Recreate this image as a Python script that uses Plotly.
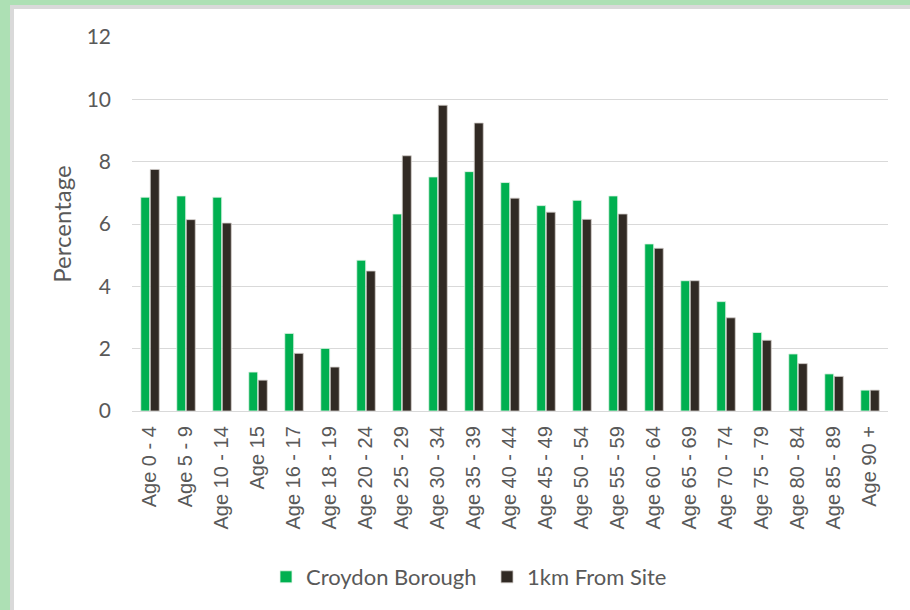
import plotly.graph_objects as go

categories = ["Age 0 - 4", "Age 5 - 9", "Age 10 - 14", "Age 15", "Age 16 - 17",
              "Age 18 - 19", "Age 20 - 24", "Age 25 - 29", "Age 30 - 34", "Age 35 - 39",
              "Age 40 - 44", "Age 45 - 49", "Age 50 - 54", "Age 55 - 59", "Age 60 - 64",
              "Age 65 - 69", "Age 70 - 74", "Age 75 - 79", "Age 80 - 84", "Age 85 - 89",
              "Age 90 +"]
croydon = [6.86, 6.90, 6.86, 1.25, 2.49, 2.01, 4.84, 6.32, 7.51, 7.68,
           7.33, 6.59, 6.76, 6.90, 5.36, 4.18, 3.51, 2.52, 1.83, 1.19, 0.67]
site_1km = [7.75, 6.14, 6.03, 0.99, 1.85, 1.41, 4.49, 8.19, 9.81, 9.24,
            6.83, 6.38, 6.15, 6.32, 5.22, 4.18, 2.99, 2.27, 1.52, 1.11, 0.67]

W, H = 910, 610
ML, MR, MT, MB = 132, 22, 37, 199
PW, PH = W - ML - MR, H - MT - MB

def px(x):
    return (x - ML) / PW

def py(y):
    return (H - MB - y) / PH

fig = go.Figure()
fig.add_trace(go.Bar(x=categories, y=croydon, name="Croydon Borough",
                     marker=dict(color="#00B050", line=dict(color="#E6F5EA", width=0.8))))
fig.add_trace(go.Bar(x=categories, y=site_1km, name="1km From Site",
                     marker=dict(color="#312A24", line=dict(color="#D0CCC8", width=0.8))))

shapes = [
    dict(type="rect", xref="paper", yref="paper", x0=px(0), x1=px(10), y0=py(H), y1=py(0),
         fillcolor="#ADE0B4", line=dict(width=0), layer="above"),
    dict(type="rect", xref="paper", yref="paper", x0=px(0), x1=px(W), y0=py(5), y1=py(0),
         fillcolor="#ADE0B4", line=dict(width=0), layer="above"),
    dict(type="rect", xref="paper", yref="paper", x0=px(10), x1=px(14), y0=py(H), y1=py(5),
         fillcolor="#D9D9D9", line=dict(width=0), layer="above"),
    dict(type="rect", xref="paper", yref="paper", x0=px(10), x1=px(W), y0=py(9), y1=py(5),
         fillcolor="#D9D9D9", line=dict(width=0), layer="above"),
]

fig.update_layout(
    width=W, height=H,
    margin=dict(l=ML, r=MR, t=MT, b=MB, autoexpand=False),
    paper_bgcolor="white", plot_bgcolor="white",
    barmode="group", bargap=0.47, bargroupgap=0.06,
    shapes=shapes,
    font=dict(family="Lato, Open Sans, sans-serif", color="#595959"),
    legend=dict(orientation="h", x=px(266), xanchor="left", y=py(577), yanchor="middle",
                font=dict(size=22, color="#595959"), itemwidth=30, entrywidth=176,
                traceorder="normal"),
    showlegend=True,
)
fig.update_yaxes(range=[0, 12], dtick=2, showgrid=True, gridcolor="#D9D9D9", gridwidth=1.3,
                 zeroline=False, showline=False, ticks="", ticklabelstandoff=20,
                 tickfont=dict(size=21, color="#595959", family="Lato, sans-serif"),
                 title=dict(text="Percentage", font=dict(size=24, color="#595959"), standoff=8))
fig.update_xaxes(showline=True, linecolor="#D9D9D9", linewidth=1.3, ticks="",
                 tickangle=-90, ticklabelstandoff=6,
                 tickfont=dict(size=20, color="#595959",
                               family="Liberation Sans, Arial, sans-serif"))

fig.write_html("out.html", config={"displayModeBar": False},
               post_script="document.body.style.margin='0';")
